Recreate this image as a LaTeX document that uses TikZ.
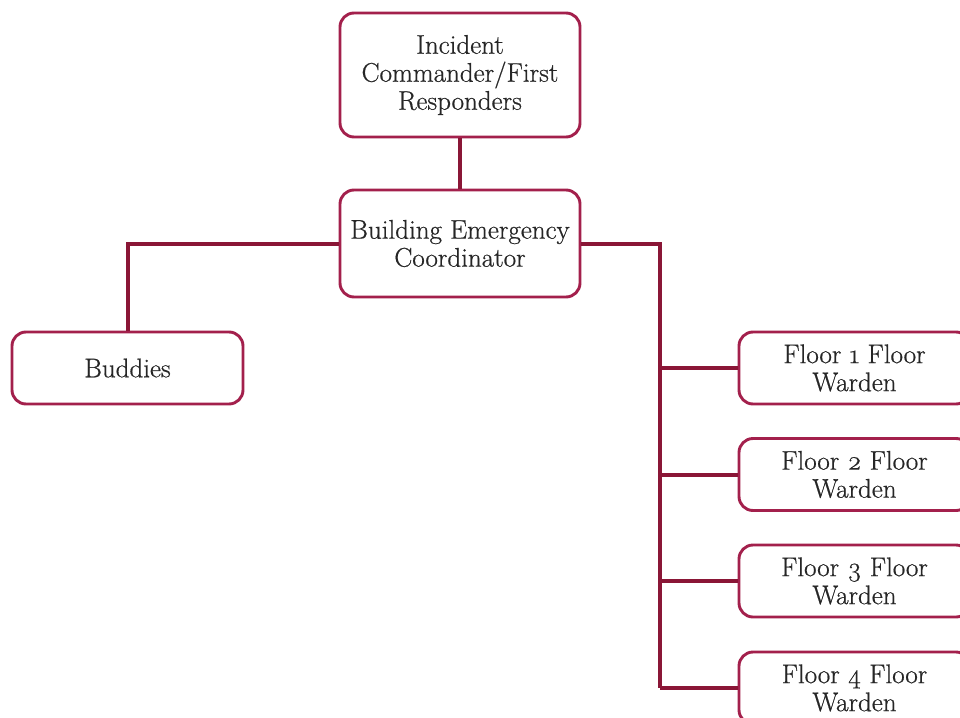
\documentclass[tikz,border=0pt]{standalone}
\usepackage{fontspec}
\setmainfont{Latin Modern Roman}[FakeBold=0.6]
\begin{document}
\begin{tikzpicture}[x=1pt,y=-1pt,
  box/.style={draw=boxred,line width=2.9pt,rounded corners=14pt,fill=white,
    align=center,inner sep=0pt,font=\fontsize{27}{28}\selectfont,text=black!85},
  conn/.style={draw=linered,line width=4pt}]
\definecolor{boxred}{HTML}{A3204C}
\definecolor{linered}{HTML}{8A1636}
\useasboundingbox (0,0) rectangle (960,717);
\clip (0,0) rectangle (960,717);
\fill[white] (0,0) rectangle (960,717);
\node[box,minimum width=240pt,minimum height=124pt] (ic) at (460,75) {Incident\\Commander/First\\Responders};
\node[box,minimum width=240pt,minimum height=107pt] (bec) at (460,243.5) {Building Emergency\\Coordinator};
\node[box,minimum width=231pt,minimum height=72pt] (bud) at (127.5,368) {Buddies};
\node[box,minimum width=231pt,minimum height=72pt] (f1) at (854.5,368) {Floor \oldstylenums{1} Floor\\Warden};
\node[box,minimum width=231pt,minimum height=72pt] (f2) at (854.5,474.5) {Floor \oldstylenums{2} Floor\\Warden};
\node[box,minimum width=231pt,minimum height=72pt] (f3) at (854.5,581) {Floor \oldstylenums{3} Floor\\Warden};
\node[box,minimum width=231pt,minimum height=72pt] (f4) at (854.5,688) {Floor \oldstylenums{4} Floor\\Warden};
\coordinate (j) at (660,243.5);
\draw[conn] (ic.south) -- (bec.north);
\draw[conn] (bec.west) -| (bud.north);
\draw[conn] (bec.east) -- (j) -- (j |- f4.west);
\foreach \f in {f1,f2,f3,f4}{\draw[conn] (j |- \f.west) -- (\f.west);}
\end{tikzpicture}
\end{document}
